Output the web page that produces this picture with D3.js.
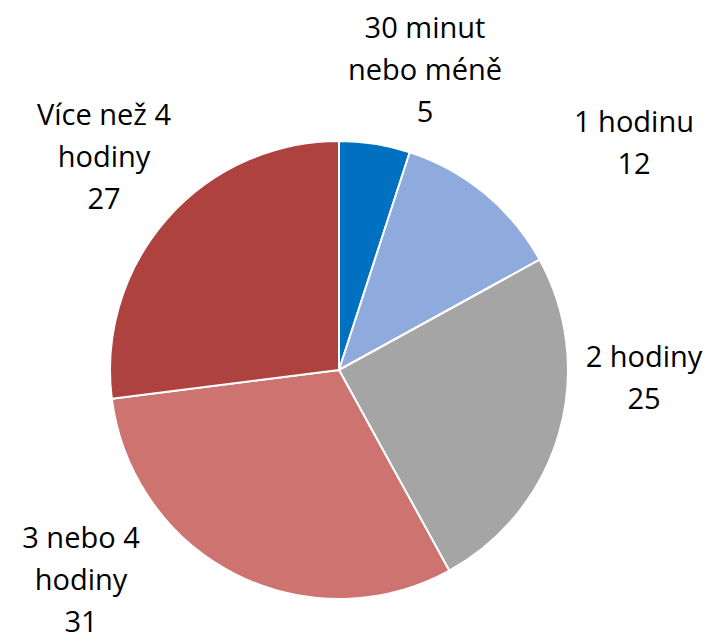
<!doctype html>
<html lang="cs">
<head>
<meta charset="UTF-8">
<title>Pie</title>
<script src="https://d3js.org/d3.v7.min.js"></script>
<style>
  body { margin: 0; background: #fff; }
  text { font-family: "Open Sans", "Noto Sans", sans-serif; fill: #000; }
</style>
</head>
<body>
<div id="chart"></div>
<script>
  const categories = ['30 minut nebo méně', '1 hodinu', '2 hodiny', '3 nebo 4 hodiny', 'Více než 4 hodiny'];
  const values = [5, 12, 25, 31, 27];
  const labelLines = [
    ['30 minut', 'nebo méně'],
    ['1 hodinu'],
    ['2 hodiny'],
    ['3 nebo 4', 'hodiny'],
    ['Více než 4', 'hodiny']
  ];
  const colors = ['#0070c0', '#8faadc', '#a5a5a5', '#cd7370', '#ad423f'];

  const width = 713, height = 638;
  const cx = 339, cy = 370, radius = 229;

  // label anchor (center x, first baseline y) for each slice
  const labelPos = [
    [425, 38],
    [634, 132],
    [644, 367],
    [81, 548],
    [104, 125]
  ];
  const lineHeight = 42;

  const svg = d3.select('#chart')
    .append('svg')
    .attr('width', width)
    .attr('height', height);

  const pie = d3.pie().sort(null).value(d => d);
  const arc = d3.arc().innerRadius(0).outerRadius(radius);

  const g = svg.append('g')
    .attr('transform', `translate(${cx}, ${cy})`);

  g.selectAll('path')
    .data(pie(values))
    .join('path')
    .attr('d', arc)
    .attr('fill', (d, i) => colors[i])
    .attr('stroke', '#fff')
    .attr('stroke-width', 2)
    .attr('stroke-linejoin', 'round');

  labelLines.forEach((lines, i) => {
    const t = svg.append('text')
      .attr('text-anchor', 'middle')
      .style('font-size', '29px');
    const all = lines.concat([String(values[i])]);
    all.forEach((s, j) => {
      t.append('tspan')
        .attr('x', labelPos[i][0])
        .attr('y', labelPos[i][1] + j * lineHeight)
        .text(s);
    });
  });
</script>
</body>
</html>
